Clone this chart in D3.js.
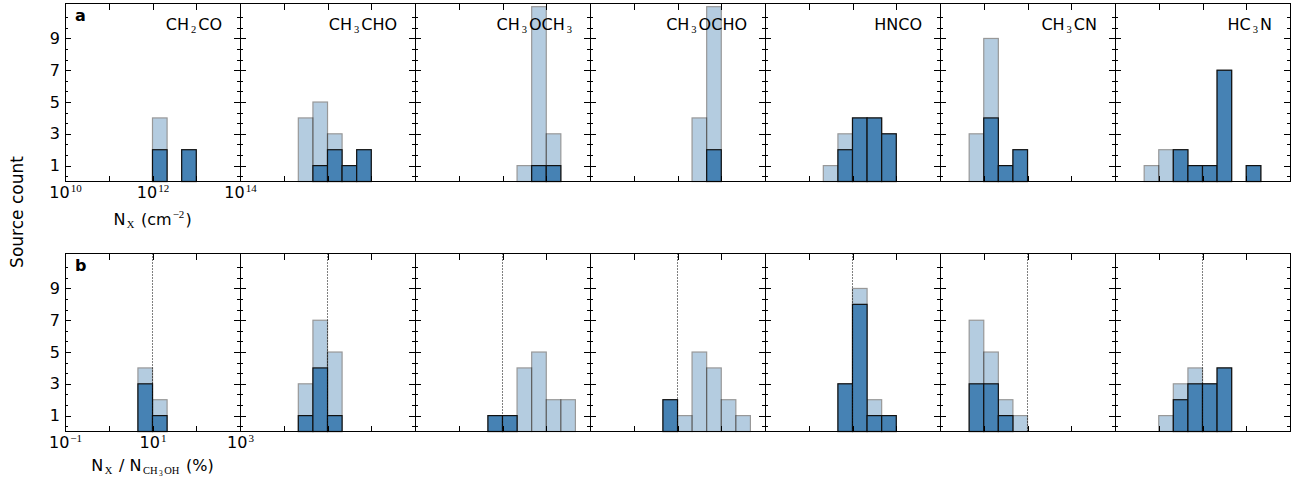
<!DOCTYPE html>
<html>
<head>
<meta charset="utf-8">
<script src="https://cdn.jsdelivr.net/npm/d3@7"></script>
<style>
  body { margin: 0; background: #fff; }
  text { font-family: "DejaVu Sans", sans-serif; }
</style>
</head>
<body>
<svg id="chart" width="1299" height="480"></svg>
<script>
// ---------------- data ----------------
const species = ["CH2CO", "CH3CHO", "CH3OCH3", "CH3OCHO", "HNCO", "CH3CN", "HC3N"];
const titles  = ["CH_2CO", "CH_3CHO", "CH_3OCH_3", "CH_3OCHO", "HNCO", "CH_3CN", "HC_3N"];

// row a : log10 N_X (cm^-2), left edge of each 1/3-dex bin
const binsA = [
  [12.0, 12.667],
  [11.333, 11.667, 12.0, 12.333, 12.667],
  [12.333, 12.667, 13.0],
  [12.333, 12.667],
  [11.333, 11.667, 12.0, 12.333, 12.667],
  [10.667, 11.0, 11.333, 11.667],
  [10.667, 11.0, 11.333, 11.667, 12.0, 12.333, 13.0]
];
const allA = [[4, 2], [4, 5, 3, 1, 2], [1, 11, 3], [4, 11], [1, 3, 4, 4, 3], [3, 9, 1, 2], [1, 2, 2, 1, 1, 7, 1]];
const detA = [[2, 2], [0, 1, 2, 1, 2], [0, 1, 1], [0, 2], [0, 2, 4, 4, 3], [0, 4, 1, 2], [0, 0, 2, 1, 1, 7, 1]];

// row b : log10 N_X / N_CH3OH (%)
const binsB = [
  [0.667, 1.0],
  [0.333, 0.667, 1.0],
  [0.667, 1.0, 1.333, 1.667, 2.0, 2.333],
  [0.667, 1.0, 1.333, 1.667, 2.0, 2.333],
  [0.667, 1.0, 1.333, 1.667],
  [-0.333, 0.0, 0.333, 0.667],
  [0.0, 0.333, 0.667, 1.0, 1.333]
];
const allB = [[4, 2], [3, 7, 5], [1, 1, 4, 5, 2, 2], [2, 1, 5, 4, 2, 1], [3, 9, 2, 1], [7, 5, 2, 1], [1, 3, 4, 3, 4]];
const detB = [[3, 1], [1, 4, 1], [1, 1, 0, 0, 0, 0], [2, 0, 0, 0, 0, 0], [3, 8, 1, 1], [3, 3, 1, 0], [0, 2, 3, 3, 4]];

const binWidth = 1 / 3;
const yTickValues = [1, 3, 5, 7, 9];
const xLabelExpA = [10, 12, 14];
const xLabelExpB = [-1, 1, 3];
const refRatio = 1;   // 10 %

// ---------------- layout ----------------
const svg = d3.select("#chart");
const panelX = d3.scaleLinear().domain([0, species.length]).range([65, 1290]);
const yMax = 11.2;
const steel = "#4682b4";

// tiny mathtext-like renderer: _x / _{..} subscripts, ^{..} superscripts
function parseRich(str) {
  const out = [];
  (function walk(s, level) {
    let i = 0, buf = "";
    const flush = () => { if (buf) { out.push({ t: buf, level: level }); buf = ""; } };
    while (i < s.length) {
      const c = s[i];
      if (c === "_" || c === "^") {
        flush();
        let arg;
        if (s[i + 1] === "{") {
          let depth = 1, j = i + 2;
          while (depth) { if (s[j] === "{") depth++; else if (s[j] === "}") depth--; j++; }
          arg = s.slice(i + 2, j - 1); i = j;
        } else { arg = s[i + 1]; i += 2; }
        walk(arg, level + (c === "_" ? -1 : 1));
      } else { buf += c; i++; }
    }
    flush();
  })(str, 0);
  return out;
}
const shiftOf = { "-2": 4.5, "-1": 2.5, "0": 0, "1": -6.6 };
const sizeOf  = { "-2": 7.5, "-1": 10.5, "0": 16, "1": 11 };
function richText(textSel, str, gap) {
  let cur = 0, prev = 0;
  parseRich(str).forEach(seg => {
    const sh = shiftOf[seg.level];
    const ts = textSel.append("tspan")
      .attr("dy", sh - cur)
      .attr("font-size", sizeOf[seg.level])
      .style("font-family", seg.level === 0 ? '"DejaVu Sans", sans-serif' : '"Liberation Serif", serif')
      .text(seg.t);
    if (seg.level !== prev) ts.attr("dx", seg.level < 0 || prev < 0 ? gap : 1);
    cur = sh; prev = seg.level;
  });
}

function drawRow(cfg) {
  const y = d3.scaleLinear().domain([0, yMax]).range([cfg.bottom, cfg.top]);
  const minor = d3.range(1 / 3, yMax, 2 / 3).filter(v => Math.abs(v - Math.round(v)) > 0.01 || Math.round(v) % 2 === 0);
  const decades = d3.range(cfg.domain[0], cfg.domain[1] + 1);

  species.forEach((sp, i) => {
    const x0 = panelX(i), x1 = panelX(i + 1);
    const x = d3.scaleLinear().domain(cfg.domain).range([x0, x1]);
    const g = svg.append("g").attr("class", "panel " + sp);

    // all sources (pale) behind, subset (solid) in front
    const bars = cfg.bins[i].map((lo, k) => ({ lo: lo, all: cfg.all[i][k], det: cfg.det[i][k] }));
    g.selectAll("rect.all").data(bars.filter(d => d.all > 0)).join("rect")
      .attr("class", "all")
      .attr("x", d => x(d.lo)).attr("width", d => x(d.lo + binWidth) - x(d.lo))
      .attr("y", d => y(d.all)).attr("height", d => y(0) - y(d.all))
      .attr("fill", steel).attr("stroke", "#000").attr("stroke-width", 1.2)
      .attr("opacity", 0.4);
    g.selectAll("rect.det").data(bars.filter(d => d.det > 0)).join("rect")
      .attr("class", "det")
      .attr("x", d => x(d.lo)).attr("width", d => x(d.lo + binWidth) - x(d.lo))
      .attr("y", d => y(d.det)).attr("height", d => y(0) - y(d.det))
      .attr("fill", steel).attr("stroke", "#111").attr("stroke-width", 1.2);

    if (cfg.ref !== undefined) {
      g.append("line")
        .attr("x1", x(cfg.ref)).attr("x2", x(cfg.ref))
        .attr("y1", cfg.top).attr("y2", cfg.bottom)
        .attr("stroke", "#000").attr("stroke-width", 1).attr("stroke-dasharray", "1,2");
    }

    // ticks, all pointing inwards
    const axes = [
      [d3.axisBottom(x).tickValues(decades).tickSizeInner(-6), `translate(0,${cfg.bottom})`],
      [d3.axisTop(x).tickValues(decades).tickSizeInner(-6), `translate(0,${cfg.top})`],
      [d3.axisLeft(y).tickValues(yTickValues).tickSizeInner(-6), `translate(${x0},0)`],
      [d3.axisLeft(y).tickValues(minor).tickSizeInner(-3), `translate(${x0},0)`],
      [d3.axisRight(y).tickValues(yTickValues).tickSizeInner(-6), `translate(${x1},0)`],
      [d3.axisRight(y).tickValues(minor).tickSizeInner(-3), `translate(${x1},0)`]
    ];
    axes.forEach(([ax, tr]) => {
      const a = g.append("g").attr("transform", tr)
        .call(ax.tickSizeOuter(0).tickFormat(""));
      a.select(".domain").remove();
      a.selectAll("line").attr("stroke", "#000").attr("stroke-width", 1).attr("shape-rendering", "crispEdges");
    });

    g.append("rect")
      .attr("x", x0).attr("y", cfg.top).attr("width", x1 - x0).attr("height", cfg.bottom - cfg.top)
      .attr("fill", "none").attr("stroke", "#000").attr("stroke-width", 1).attr("shape-rendering", "crispEdges");

    if (cfg.titles) {
      richText(g.append("text")
        .attr("x", x1 - 18).attr("y", cfg.top + 26.5)
        .attr("text-anchor", "end").attr("font-size", 16).attr("fill", "#000"), cfg.titles[i], 2);
    }

    if (i === 0) {
      // y tick labels
      const yl = g.append("g").attr("transform", `translate(${x0},0)`)
        .call(d3.axisLeft(y).tickValues(yTickValues).tickSize(0).tickPadding(5));
      yl.select(".domain").remove();
      yl.selectAll("text").attr("font-size", 16).attr("fill", "#000")
        .style("font-family", '"DejaVu Sans", sans-serif');

      // x tick labels 10^n
      const xl = g.append("g").attr("transform", `translate(0,${cfg.bottom})`)
        .call(d3.axisBottom(x).tickValues(cfg.labelExp).tickSize(0).tickPadding(5).tickFormat(""));
      xl.select(".domain").remove();
      xl.selectAll(".tick text").each(function (d) {
        const t = d3.select(this).attr("dy", null).attr("y", 16.6)
          .attr("font-size", 16).attr("fill", "#000").attr("text-anchor", "middle");
        richText(t, "10^{" + String(d).replace("-", "\u2212") + "}", 1);
      });

      richText(g.append("text")
        .attr("x", x(cfg.domain[0] + 2)).attr("y", cfg.xlabelY)
        .attr("text-anchor", "middle").attr("font-size", 16).attr("fill", "#000"), cfg.xlabel, 1.5);

      g.append("text")
        .attr("x", x0 + 10).attr("y", cfg.top + 17)
        .attr("font-size", 16).attr("font-weight", "bold").attr("fill", "#000")
        .text(cfg.letter);
    }
  });
}

drawRow({
  top: 3.5, bottom: 181.5, domain: [10, 14],
  bins: binsA, all: allA, det: detA,
  labelExp: xLabelExpA, titles: titles,
  xlabel: "N_{X} (cm^{\u22122})", xlabelY: 225, letter: "a"
});
drawRow({
  top: 253.5, bottom: 431.5, domain: [-1, 3],
  bins: binsB, all: allB, det: detB,
  labelExp: xLabelExpB, ref: refRatio,
  xlabel: "N_{X} / N_{CH_{3}OH} (%)", xlabelY: 471, letter: "b"
});

svg.append("text")
  .attr("transform", "translate(23,212) rotate(-90)")
  .attr("text-anchor", "middle").attr("font-size", 17).attr("fill", "#000")
  .text("Source count");
</script>
</body>
</html>
